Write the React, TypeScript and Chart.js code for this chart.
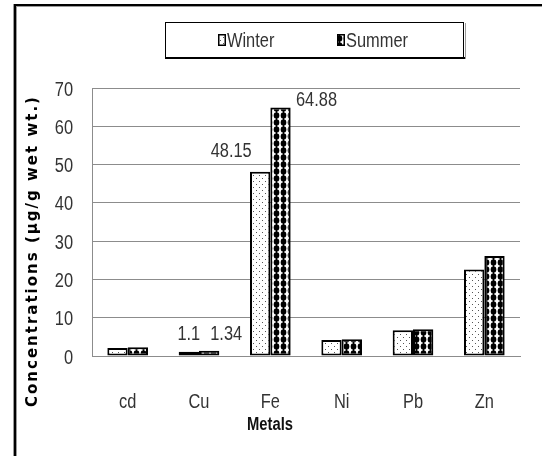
import React, { useEffect, useRef } from "react";
import { Chart, registerables } from "chart.js";

Chart.register(...registerables);

// ---- data ----
const categories = ["cd", "Cu", "Fe", "Ni", "Pb", "Zn"];
const seriesNames = ["Winter", "Summer"];
const winterValues = [2.1, 1.1, 48.15, 4.2, 6.7, 22.6];
const summerValues = [2.3, 1.34, 64.88, 4.4, 7.0, 26.1];
const yTicks = [0, 10, 20, 30, 40, 50, 60, 70];
const yTitle = "Concentrations (µg/g wet wt.)";
const xTitle = "Metals";
// which bars carry a value label: [series index, category index]
const labelledBars = [
  [0, 1],
  [1, 1],
  [0, 2],
  [1, 2],
];

// ---- style ----
const FONT = '"Liberation Sans", Arial, sans-serif';
const SQUEEZE = 0.82; // horizontal condensing of text, to mimic a narrow face
const TEXT = "#333";
const GRID = "#8c8c8c";
// label offsets relative to the bar top centre (style only)
const labelOffsets = [
  [0, -17],
  [17, -16],
  [-29, -20],
  [36, -7],
];

function narrowText(
  ctx: CanvasRenderingContext2D,
  text: string,
  x: number,
  y: number,
  align: CanvasTextAlign,
  size: number,
  bold = false,
  color = TEXT
) {
  ctx.save();
  ctx.translate(x, y);
  ctx.scale(SQUEEZE, 1);
  ctx.font = `${bold ? "bold " : ""}${size}px ${FONT}`;
  ctx.textAlign = align;
  ctx.textBaseline = "middle";
  ctx.fillStyle = color;
  ctx.fillText(text, 0, 0);
  ctx.restore();
}

function makeWinterPattern(ctx: CanvasRenderingContext2D) {
  const c = document.createElement("canvas");
  c.width = 6;
  c.height = 6;
  const g = c.getContext("2d")!;
  g.fillStyle = "#fff";
  g.fillRect(0, 0, 6, 6);
  g.fillStyle = "#555";
  g.fillRect(1, 1, 1, 1);
  g.fillRect(4, 4, 1, 1);
  return ctx.createPattern(c, "repeat")!;
}

function makeSummerPattern(ctx: CanvasRenderingContext2D) {
  const c = document.createElement("canvas");
  c.width = 7;
  c.height = 7;
  const g = c.getContext("2d")!;
  g.fillStyle = "#fff";
  g.fillRect(0, 0, 7, 7);
  g.fillStyle = "#000";
  g.beginPath();
  g.ellipse(3.5, 3.5, 2.8, 3.3, 0, 0, Math.PI * 2);
  g.fill();
  g.fillRect(3, 0, 1, 7);
  return ctx.createPattern(c, "repeat")!;
}

const decorPlugin = {
  id: "decor",
  beforeDraw(chart: any) {
    const ctx = chart.ctx as CanvasRenderingContext2D;
    ctx.save();
    ctx.fillStyle = "#fff";
    ctx.fillRect(0, 0, chart.width, chart.height);
    // outer frame (left + top)
    ctx.fillStyle = "#9a9a9a";
    ctx.fillRect(13, 4, 1, chart.height - 4);
    ctx.fillRect(16, 6, 1, chart.height - 6);
    ctx.fillRect(16, 6, chart.width - 16, 1);
    ctx.fillStyle = "#000";
    ctx.fillRect(14, 4, 2, chart.height - 4);
    ctx.fillRect(14, 4, chart.width - 14, 2);
    ctx.restore();
  },
  afterDraw(chart: any) {
    const ctx = chart.ctx as CanvasRenderingContext2D;
    const pats = chart.data.datasets.map((d: any) => d.backgroundColor);
    const xs = chart.scales.x;
    const ys = chart.scales.y;
    ctx.save();

    // tick labels
    yTicks.forEach((v) => {
      narrowText(ctx, String(v), 73, ys.getPixelForValue(v) + 2, "right", 20);
    });
    categories.forEach((c, i) => {
      narrowText(ctx, c, xs.getPixelForValue(i), 402, "center", 20);
    });

    // legend box
    ctx.fillStyle = "#fff";
    ctx.fillRect(165, 22, 299, 36);
    ctx.strokeStyle = "#000";
    ctx.lineWidth = 1;
    ctx.strokeRect(165.5, 22.5, 298, 35);
    ctx.fillStyle = "#000";
    ctx.fillRect(165, 57, 300, 2);
    ctx.fillStyle = "#9a9a9a";
    ctx.fillRect(465, 23, 1, 36);
    const items = [
      { x: 218, pat: pats[0] },
      { x: 337, pat: pats[1] },
    ];
    items.forEach((it, i) => {
      ctx.fillStyle = it.pat;
      ctx.fillRect(it.x, 34, 8, 12);
      ctx.strokeStyle = "#000";
      ctx.lineWidth = 1.5;
      ctx.strokeRect(it.x + 0.75, 34.75, 6.5, 10.5);
      narrowText(ctx, seriesNames[i], it.x + 9, 41, "left", 20);
    });

    // axis titles
    ctx.fillStyle = "#000";
    ctx.font = `bold 15px "DejaVu Sans", sans-serif`;
    (ctx as any).letterSpacing = "2px";
    ctx.textAlign = "center";
    ctx.textBaseline = "middle";
    ctx.save();
    ctx.translate(33, 251);
    ctx.rotate(-Math.PI / 2);
    ctx.fillText(yTitle, 0, 0);
    ctx.restore();
    (ctx as any).letterSpacing = "0px";
    narrowText(ctx, xTitle, 270, 425, "center", 18, true, "#111");

    // value labels
    labelledBars.forEach(([ds, i], k) => {
      const bar = chart.getDatasetMeta(ds).data[i];
      const v = chart.data.datasets[ds].data[i];
      narrowText(ctx, String(v), bar.x + labelOffsets[k][0], bar.y + labelOffsets[k][1], "center", 20);
    });
    ctx.restore();
  },
};

export default function App() {
  const ref = useRef<HTMLCanvasElement>(null);
  useEffect(() => {
    const canvas = ref.current!;
    const ctx = canvas.getContext("2d")!;
    const pats = [makeWinterPattern(ctx), makeSummerPattern(ctx)];
    const chart: any = new Chart(canvas, {
      type: "bar",
      data: {
        labels: categories,
        datasets: [
          {
            label: seriesNames[0],
            data: winterValues,
            backgroundColor: pats[0],
            borderColor: "#000",
            borderWidth: 2,
            borderSkipped: false,
            categoryPercentage: 0.57,
            barPercentage: 1,
          },
          {
            label: seriesNames[1],
            data: summerValues,
            backgroundColor: pats[1],
            borderColor: "#000",
            borderWidth: 2,
            borderSkipped: false,
            categoryPercentage: 0.57,
            barPercentage: 1,
          },
        ],
      },
      options: {
        animation: false,
        responsive: true,
        maintainAspectRatio: false,
        devicePixelRatio: 1,
        layout: { padding: { left: 0, top: 88, right: 22, bottom: 0 } },
        plugins: {
          legend: { display: false },
          tooltip: { enabled: false },
        },
        scales: {
          x: {
            grid: { display: false },
            border: { display: true, color: GRID, width: 1 },
            ticks: { display: false },
            afterFit(s: any) {
              s.height = 100;
            },
          },
          y: {
            min: 0,
            max: 70,
            afterBuildTicks(s: any) {
              s.ticks = yTicks.map((v) => ({ value: v }));
            },
            ticks: { display: false },
            grid: { color: GRID, drawTicks: false, lineWidth: 1 },
            border: { display: true, color: GRID, width: 1 },
            afterFit(s: any) {
              s.width = 92;
            },
          },
        },
      },
      plugins: [decorPlugin],
    });
    return () => chart.destroy();
  }, []);
  return (
    <div style={{ position: "fixed", left: 0, top: 0, width: 542, height: 456 }}>
      <canvas ref={ref} />
    </div>
  );
}
